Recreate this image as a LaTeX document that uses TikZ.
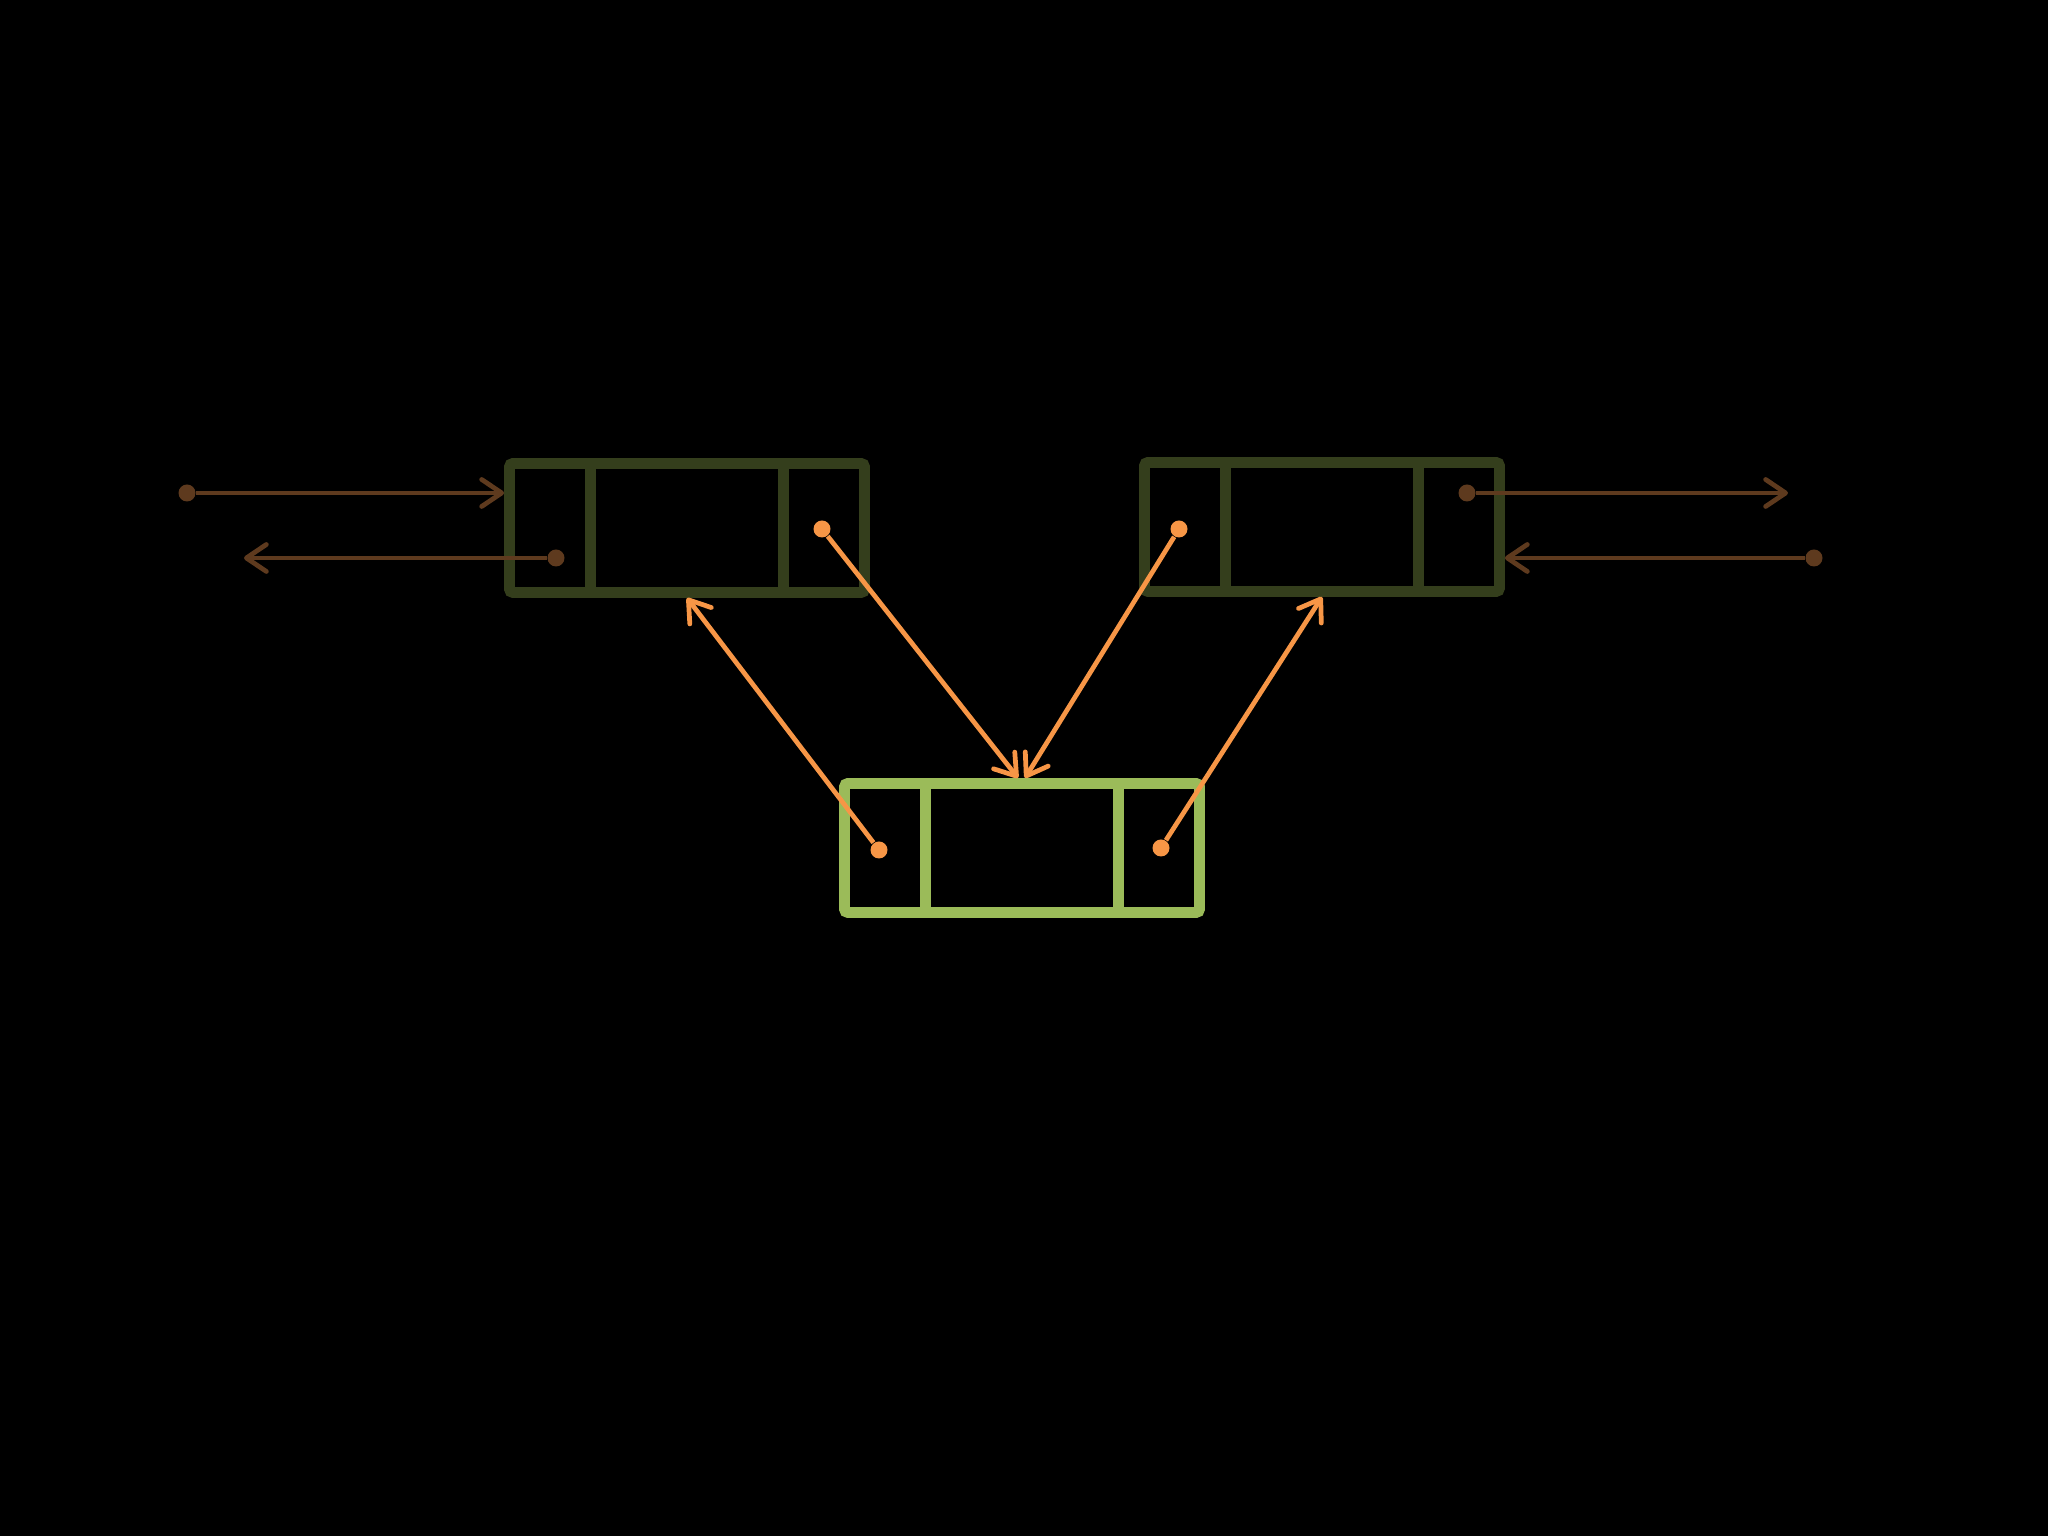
\documentclass[tikz,border=0pt]{standalone}
\usetikzlibrary{arrows.meta}
\definecolor{oldbox}{RGB}{52,62,28}
\definecolor{newbox}{RGB}{155,187,89}
\definecolor{newlink}{RGB}{247,150,70}
\definecolor{oldlink}{RGB}{94,58,30}
\begin{document}
\begin{tikzpicture}[>={Straight Barb[length=2mm,width=2.7mm,round]},
    list node/.style={rectangle,draw,line width=3.1pt,rounded corners=1pt,minimum width=3.55cm,minimum height=1.29cm,inner sep=0pt},
    dot/.style={circle,fill,inner sep=0pt,minimum size=1.7mm}]
            \fill[black] (0,0) rectangle (20.48,15.36);
            \useasboundingbox (0,0) rectangle (20.48,15.36);

            \node[list node,oldbox] at (6.87, 10.08) (a) {};
            \node[list node,oldbox] at (13.22, 10.09) (b) {};
            \node[list node,newbox] at (10.22, 6.88) (n) {};

            \foreach \nd/\col in {a/oldbox,b/oldbox,n/newbox}
                \draw[\col,line width=3.1pt] ([xshift=0.865cm]\nd.north west) -- ([xshift=0.865cm]\nd.south west)
                    ([xshift=-0.865cm]\nd.north east) -- ([xshift=-0.865cm]\nd.south east);

            \node[dot,oldlink] at (1.87, 10.43) (h) {};
            \node[dot,oldlink] at (5.56, 9.78) (ap) {};
            \node[dot,newlink] at (8.22, 10.07) (an) {};
            \node[dot,newlink] at (11.79, 10.07) (bp) {};
            \node[dot,oldlink] at (14.67, 10.43) (bn) {};
            \node[dot,oldlink] at (18.14, 9.78) (t) {};
            \node[dot,newlink] at (8.79, 6.86) (np) {};
            \node[dot,newlink] at (11.61, 6.88) (nn) {};
            \coordinate (hl) at (2.44, 9.78);
            \coordinate (tr) at (17.88, 10.43);

            \path[->,oldlink,line width=1.35pt]
                (h) edge (a.west |- h)
                (ap) edge (hl)
                (bn) edge (tr)
                (t) edge (b.east |- t)
                ;
            \path[->,newlink,line width=1.35pt]
                (an) edge ([xshift=-0.04cm]n.north)
                (bp) edge ([xshift=0.03cm]n.north)
                (np) edge (a.south)
                (nn) edge (b.south)
                ;
        \end{tikzpicture}
\end{document}
